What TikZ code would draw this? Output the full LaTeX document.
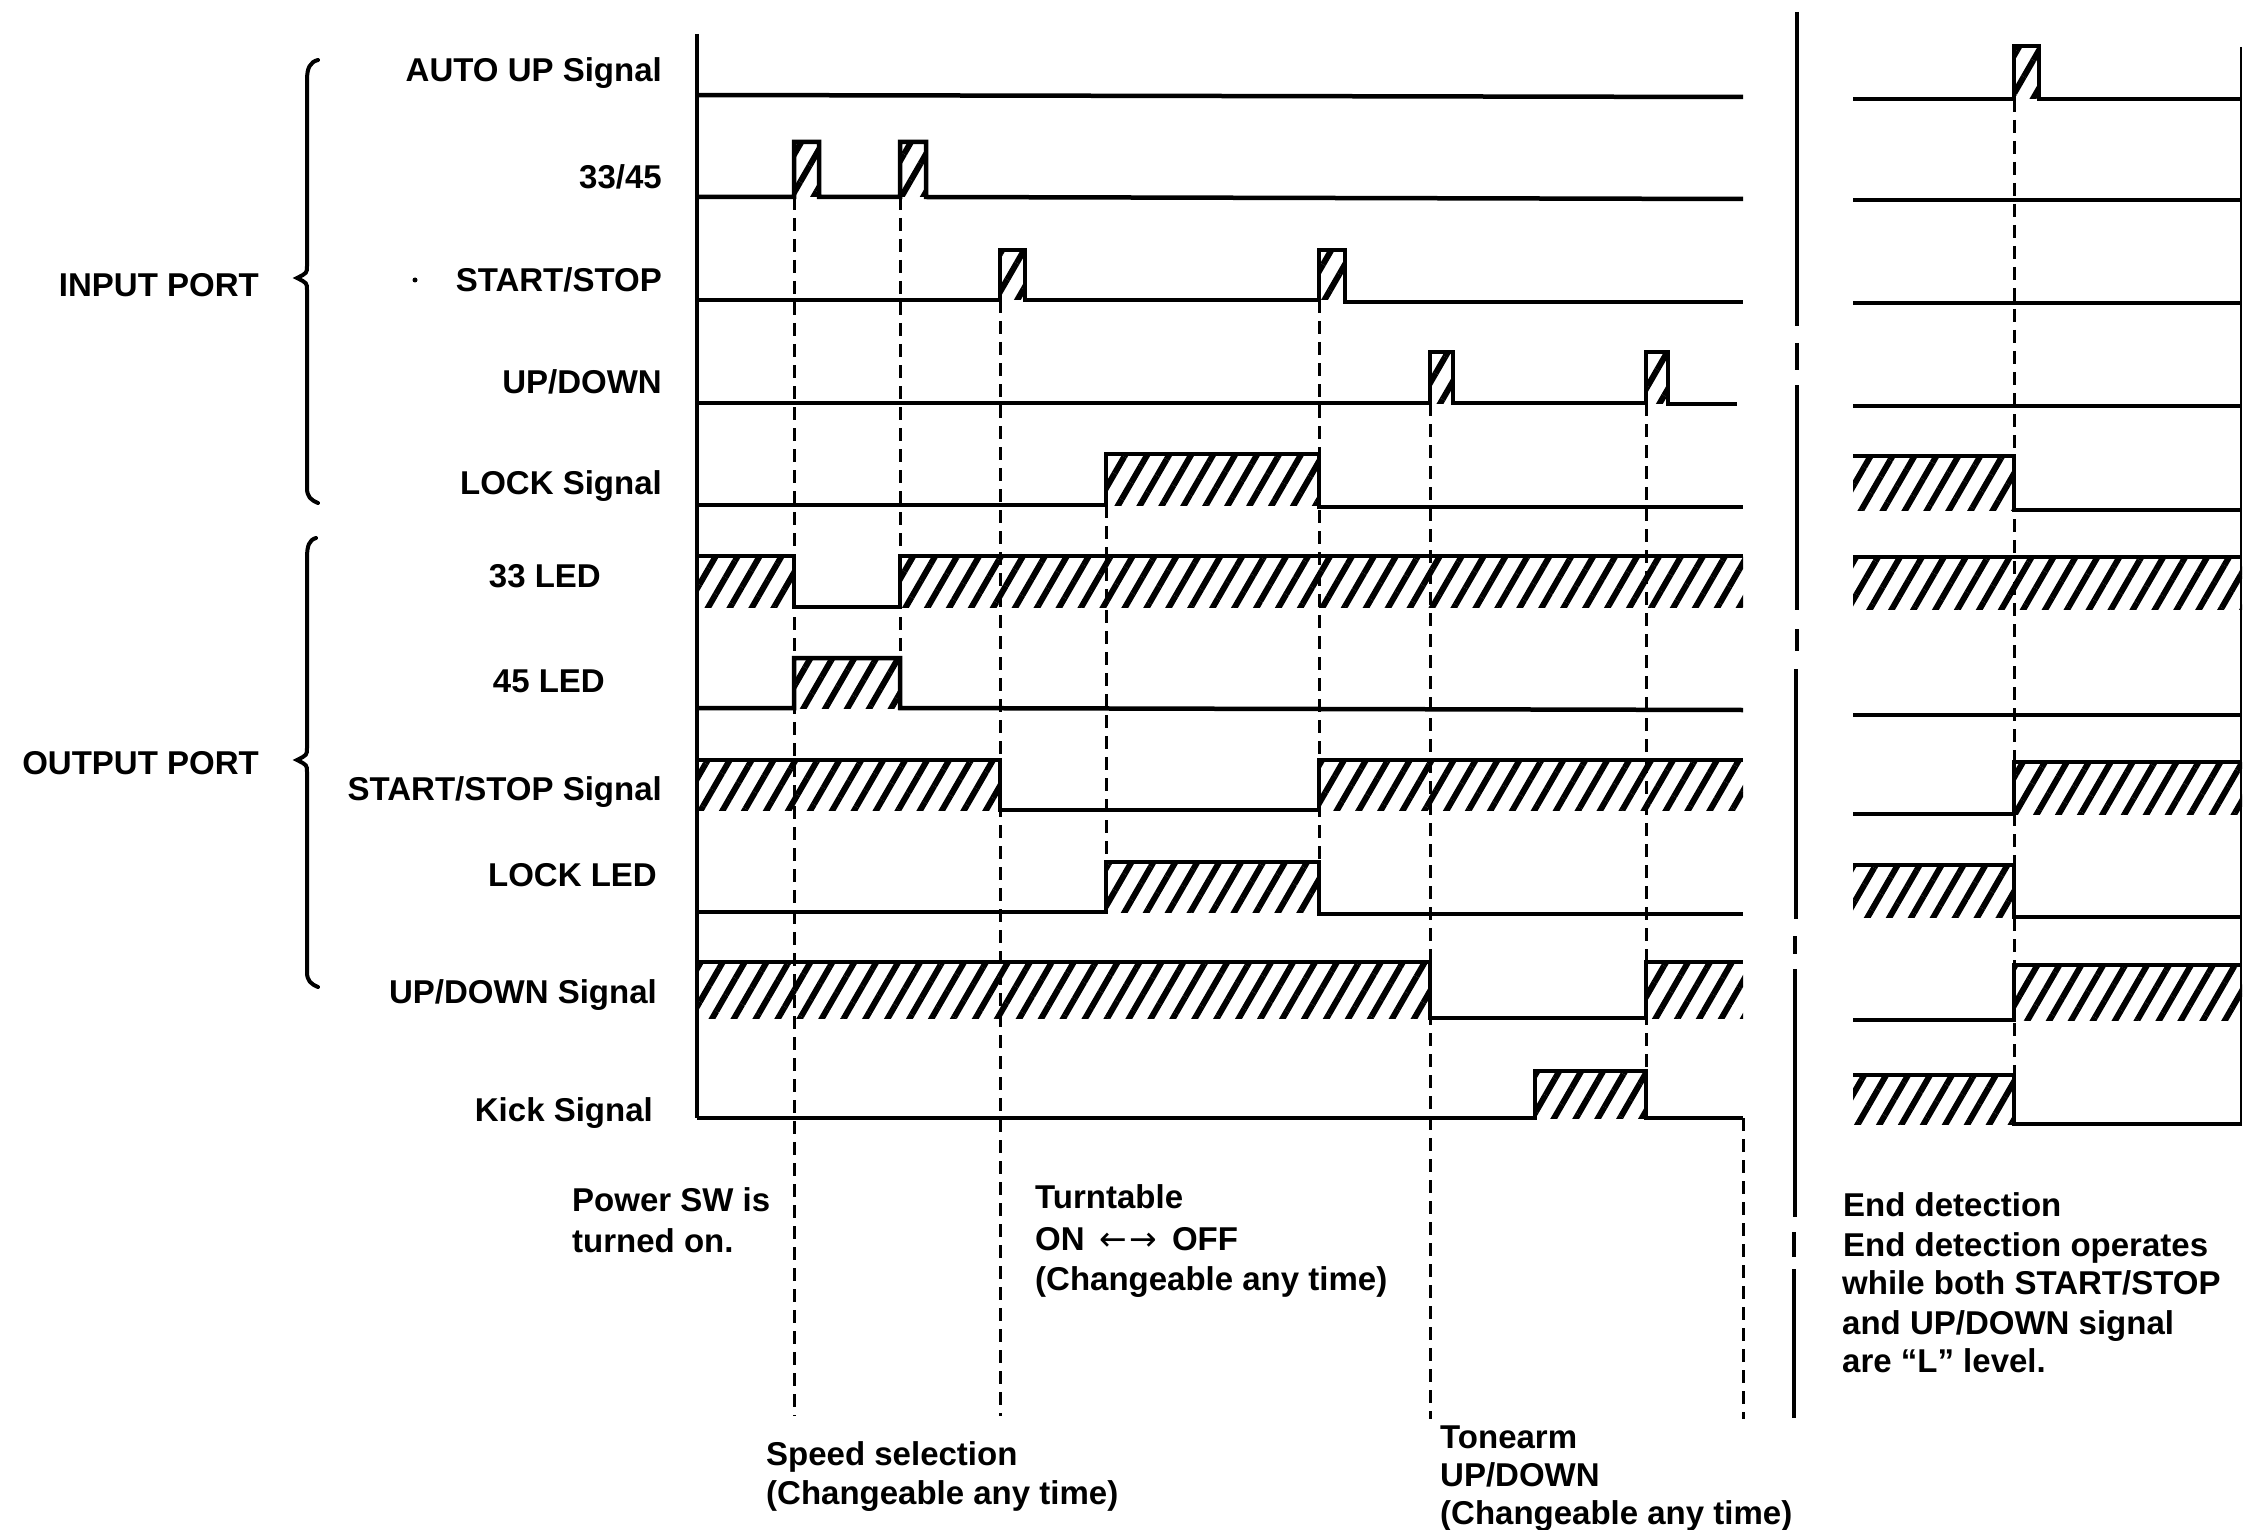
\documentclass[tikz,border=0pt]{standalone}
\usepackage{fontspec}
\setmainfont{Liberation Sans}
\newfontfamily\arrowfont{DejaVu Sans}
\usetikzlibrary{patterns.meta}
\begin{document}
\begin{tikzpicture}[x=1pt,y=-1pt,
  sig/.style={line width=4.5pt, line join=miter},
  hat/.style={pattern={Lines[angle=60,distance=19pt,line width=6pt]}},
  vdash/.style={line width=3pt, dash pattern=on 13pt off 8pt},
  axisline/.style={line width=4pt},
  brace/.style={line width=4pt, line cap=round},
  lbl/.style={font=\fontsize{33}{40}\selectfont\bfseries, inner sep=0pt}]
\useasboundingbox (0,0) rectangle (2244,1530);
\fill[white] (0,0) rectangle (2244,1530);

% ---------- hatched areas (left section)
\path[hat] (794,142) rectangle (819,197);
\path[hat] (900,142) rectangle (926,197);
\path[hat] (1000,250) rectangle (1025,300);
\path[hat] (1319,250) rectangle (1345,300);
\path[hat] (1430,352) rectangle (1453,403);
\path[hat] (1646,352) rectangle (1668,403);
\path[hat] (1106,454) rectangle (1319,505);
\path[hat] (697,556) rectangle (794,607);
\path[hat] (900,556) rectangle (1743,607);
\path[hat] (794,658) rectangle (900,708);
\path[hat] (697,760) rectangle (1000,810);
\path[hat] (1319,760) rectangle (1743,810);
\path[hat] (1106,862) rectangle (1319,912);
\path[hat] (697,962) rectangle (1430,1018);
\path[hat] (1646,962) rectangle (1743,1018);
\path[hat] (1535,1071) rectangle (1646,1118);
% ---------- hatched areas (right section)
\path[hat] (2014,46) rectangle (2039,99);
\path[hat] (1853,456) rectangle (2014,510);
\path[hat] (1853,557) rectangle (2242,609);
\path[hat] (2014,762) rectangle (2242,814);
\path[hat] (1853,865) rectangle (2014,917);
\path[hat] (2014,965) rectangle (2242,1020);
\path[hat] (1853,1075) rectangle (2014,1124);

% ---------- dashed time markers
\draw[vdash] (794,197) -- (794,1416);
\draw[vdash] (900,197) -- (900,658);
\draw[vdash] (1000,300) -- (1000,1416);
\draw[vdash] (1106,505) -- (1106,862);
\draw[vdash] (1319,300) -- (1319,862);
\draw[vdash] (1430,403) -- (1430,1419);
\draw[vdash] (1646,403) -- (1646,1071);
\draw[vdash] (1743,1118) -- (1743,1419);
\draw[vdash] (2014,99) -- (2014,1124);

% ---------- separator
\draw[axisline] (1797,12) -- (1797,326);
\draw[axisline] (1797,343) -- (1797,370);
\draw[axisline] (1797,385) -- (1797,610);
\draw[axisline] (1797,629) -- (1797,651);
\draw[axisline] (1796,669) -- (1796,919);
\draw[axisline] (1795,936) -- (1795,954);
\draw[axisline] (1795,969) -- (1795,1217);
\draw[axisline] (1794,1232) -- (1794,1257);
\draw[axisline] (1794,1269) -- (1794,1418);

% ---------- axis
\draw[axisline] (697,34) -- (697,1118);
\draw[line width=2.5pt] (2241,47) -- (2241,1124);

% ---------- waveforms (left)
\draw[sig] (697,95) -- (1743,97);
\draw[sig] (697,197) -- (794,197) -- (794,142) -- (819,142) -- (819,197) -- (900,197) -- (900,142) -- (926,142) -- (926,197) -- (1743,199);
\draw[sig] (697,300) -- (1000,300) -- (1000,250) -- (1025,250) -- (1025,300) -- (1319,300) -- (1319,250) -- (1345,250) -- (1345,302) -- (1743,302);
\draw[sig] (697,403) -- (1430,403) -- (1430,352) -- (1453,352) -- (1453,403) -- (1646,403) -- (1646,352) -- (1668,352) -- (1668,404) -- (1737,404);
\draw[sig] (697,505) -- (1106,505) -- (1106,454) -- (1319,454) -- (1319,507) -- (1743,507);
\draw[sig] (697,556) -- (794,556) -- (794,607) -- (900,607) -- (900,556) -- (1743,556);
\draw[sig] (697,708) -- (794,708) -- (794,658) -- (900,658) -- (900,708) -- (1743,710);
\draw[sig] (697,760) -- (1000,760) -- (1000,810) -- (1319,810) -- (1319,760) -- (1743,760);
\draw[sig] (697,912) -- (1106,912) -- (1106,862) -- (1319,862) -- (1319,914) -- (1743,914);
\draw[sig] (697,962) -- (1430,962) -- (1430,1018) -- (1646,1018) -- (1646,962) -- (1743,962);
\draw[sig] (697,1118) -- (1535,1118) -- (1535,1071) -- (1646,1071) -- (1646,1118) -- (1743,1118);

% ---------- waveforms (right)
\draw[sig] (1853,99) -- (2014,99) -- (2014,46) -- (2039,46) -- (2039,99) -- (2242,99);
\draw[sig] (1853,200) -- (2242,200);
\draw[sig] (1853,303) -- (2242,303);
\draw[sig] (1853,406) -- (2242,406);
\draw[sig] (1853,456) -- (2014,456) -- (2014,510) -- (2242,510);
\draw[sig] (1853,557) -- (2242,557);
\draw[sig] (1853,715) -- (2242,715);
\draw[sig] (1853,814) -- (2014,814) -- (2014,762) -- (2242,762);
\draw[sig] (1853,865) -- (2014,865) -- (2014,917) -- (2242,917);
\draw[sig] (1853,1020) -- (2014,1020) -- (2014,965) -- (2242,965);
\draw[sig] (1853,1075) -- (2014,1075) -- (2014,1124) -- (2242,1124);

% ---------- braces
\draw[brace] (318,60) .. controls (310,62) and (307,68) .. (307,80) -- (307,266)
  .. controls (307,273) .. (297,278) .. controls (307,283) .. (307,290) -- (307,488)
  .. controls (307,497) and (311,500) .. (318,503);
\draw[brace] (316,538) .. controls (309,540) and (307,546) .. (307,558) -- (307,748)
  .. controls (307,755) .. (297,760) .. controls (307,765) .. (307,772) -- (307,972)
  .. controls (307,981) and (311,984) .. (318,987);

% ---------- group labels
\node[lbl, anchor=base east] (inport) at (259,297) {INPUT PORT};
\node[lbl, anchor=base east] (outport) at (259,774) {OUTPUT PORT};

% ---------- signal labels
\node[lbl, anchor=base east] (lautoup) at (662,82) {AUTO UP Signal};
\node[lbl, anchor=base east] (l3345) at (662,189) {33/45};
\node[lbl, anchor=base east] (lss) at (662,292) {START/STOP};
\fill (415,280) circle (2.5pt);
\node[lbl, anchor=base east] (lud) at (662,393) {UP/DOWN};
\node[lbl, anchor=base east] (llock) at (662,494) {LOCK Signal};
\node[lbl, anchor=base east] (l33) at (601,587) {33 LED};
\node[lbl, anchor=base east] (l45) at (605,692) {45 LED};
\node[lbl, anchor=base east] (lsss) at (662,800) {START/STOP Signal};
\node[lbl, anchor=base east] (llockled) at (657,886) {LOCK LED};
\node[lbl, anchor=base east] (luds) at (657,1003) {UP/DOWN Signal};
\node[lbl, anchor=base east] (lkick) at (653,1121) {Kick Signal};

% ---------- notes
\node[lbl, anchor=base west] (pw1) at (572,1211) {Power SW is};
\node[lbl, anchor=base west] (pw2) at (572,1252) {turned on.};
\node[lbl, anchor=base west] (sp1) at (766,1465) {Speed selection};
\node[lbl, anchor=base west] (sp2) at (766,1504) {(Changeable any time)};
\node[lbl, anchor=base west] (tt1) at (1035,1208) {Turntable};
\node[lbl, anchor=base west] (tt2) at (1035,1250) {ON\kern15pt{\arrowfont\mdseries\fontsize{33}{36}\selectfont ←\kern2pt→}\kern15pt OFF};
\node[lbl, anchor=base west] (tt3) at (1035,1290) {(Changeable any time)};
\node[lbl, anchor=base west] (ta1) at (1440,1448) {Tonearm};
\node[lbl, anchor=base west] (ta2) at (1440,1486) {UP/DOWN};
\node[lbl, anchor=base west] (ta3) at (1440,1524) {(Changeable any time)};
\node[lbl, anchor=base west] (ed1) at (1843,1216) {End detection};
\node[lbl, anchor=base west] (ed2) at (1843,1256) {End detection operates};
\node[lbl, anchor=base west] (ed3) at (1842,1294) {while both START/STOP};
\node[lbl, anchor=base west] (ed4) at (1842,1334) {and UP/DOWN signal};
\node[lbl, anchor=base west] (ed5) at (1842,1372) {are “L” level.};
\end{tikzpicture}
\end{document}
